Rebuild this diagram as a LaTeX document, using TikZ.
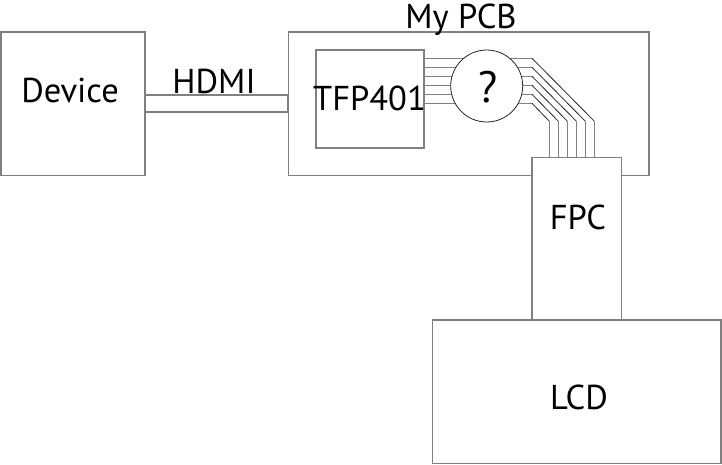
\documentclass[tikz,border=0pt]{standalone}
\usepackage{fontspec}
\setmainfont{PT Sans}
\begin{document}
\begin{tikzpicture}[x=1pt,y=-1pt,
  box/.style={draw=black!50,line width=1.3pt,rectangle,inner sep=0pt},
  wire/.style={draw=black!50,line width=1pt},
  diag/.style={draw=black!85,line width=0.8pt},
  lbl/.style={anchor=base,inner sep=0pt,font=\fontsize{34.5}{34}\selectfont}]
\useasboundingbox (0,0) rectangle (722,465);
% boxes
\node[box,minimum width=144pt,minimum height=143.5pt] (dev) at (73,103.75) {};
\node[box,minimum width=360.5pt,minimum height=143.5pt] (pcb) at (468.75,103.75) {};
\node[box,minimum width=108pt,minimum height=98pt] (tfp) at (370,99) {};
% HDMI cable
\coordinate (c1) at (dev.east |- 0,95);
\coordinate (c2) at (pcb.west |- 0,112);
\draw[box] (c1) rectangle (c2);
% wires
\foreach \i in {0,...,5}{
  \pgfmathsetmacro{\yy}{58.3+9*\i}
  \pgfmathsetmacro{\xe}{594.3-9*\i}
  \coordinate (a\i) at (tfp.east |- 0,\yy);
  \coordinate (b\i) at (532,\yy);
  \coordinate (d\i) at (\xe,121.2);
  \coordinate (e\i) at (\xe,158);
  \draw[wire] (a\i) -- (b\i);
  \draw[diag] (b\i) -- (d\i);
  \draw[wire] (d\i) -- (e\i);
}
% circle
\node[circle,draw=black!85,line width=0.8pt,fill=white,minimum size=72pt,inner sep=0pt] (q) at (486.7,86) {};
\node[lbl,font=\fontsize{44}{44}\selectfont] (qm) at (488,102.7) {?};
% FPC and LCD
\node[box,fill=white,minimum width=89.7pt,minimum height=162pt] (fpc) at (576.85,238.5) {};
\node[box,minimum width=288.3pt,minimum height=143.5pt] (lcd) at (576.85,391.75) {};
% labels
\node[lbl] (tdev) at (70,103) {Device};
\node[lbl] (thdmi) at (214,94) {HDMI};
\node[lbl] (tpcb) at (461,29) {My PCB};
\node[lbl] (ttfp) at (369.5,111) {TFP401};
\node[lbl] (tfpc) at (578,229) {FPC};
\node[lbl] (tlcd) at (579,409) {LCD};
\end{tikzpicture}
\end{document}
